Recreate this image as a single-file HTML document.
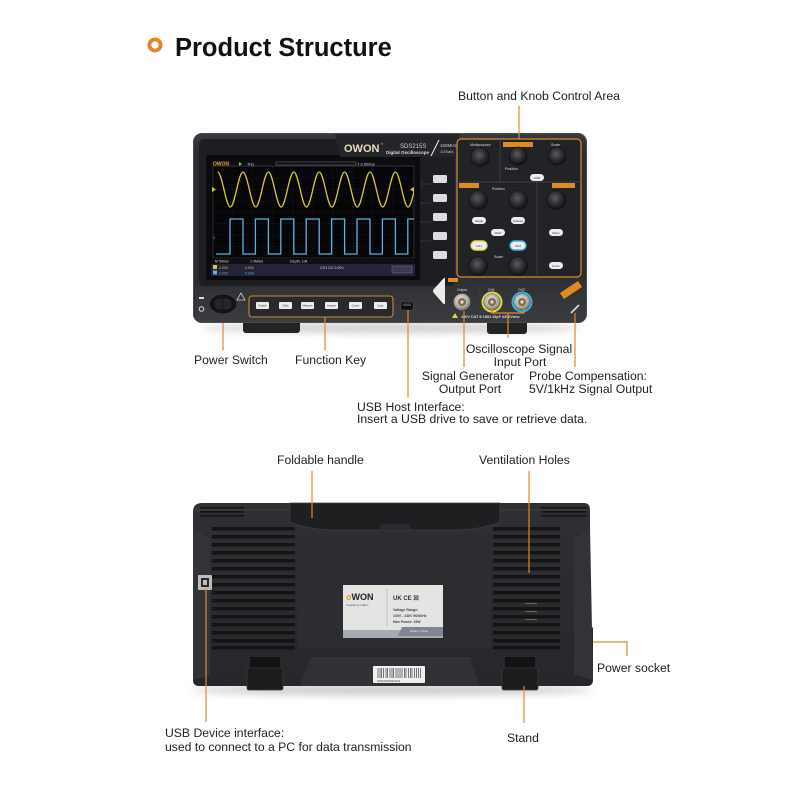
<!DOCTYPE html>
<html><head><meta charset="utf-8">
<style>
html,body{margin:0;padding:0;background:#fff;}
svg{display:block;}
.lb{font-family:"Liberation Sans",sans-serif;font-size:12.2px;fill:#222;}
.tiny{font-family:"Liberation Sans",sans-serif;fill:#ddd;}
</style></head>
<body>
<svg width="800" height="800" viewBox="0 0 800 800" xmlns="http://www.w3.org/2000/svg">
<defs>
  <radialGradient id="knob" cx="45%" cy="40%" r="60%">
    <stop offset="0" stop-color="#5a5b5e"/>
    <stop offset="0.6" stop-color="#2a2b2d"/>
    <stop offset="1" stop-color="#121213"/>
  </radialGradient>
  <radialGradient id="bnc" cx="45%" cy="40%" r="60%">
    <stop offset="0" stop-color="#f2f2f2"/>
    <stop offset="0.7" stop-color="#a8a8a8"/>
    <stop offset="1" stop-color="#6a6a6a"/>
  </radialGradient>
  <linearGradient id="bodyF" x1="0" y1="0" x2="0" y2="1">
    <stop offset="0" stop-color="#3a3b3f"/>
    <stop offset="0.1" stop-color="#2c2d31"/>
    <stop offset="1" stop-color="#2a2b2e"/>
  </linearGradient>
  <linearGradient id="strip" x1="0" y1="0" x2="0" y2="1">
    <stop offset="0" stop-color="#2e2f33"/>
    <stop offset="1" stop-color="#3b3c40"/>
  </linearGradient>
  <linearGradient id="bodyB" x1="0" y1="0" x2="0" y2="1">
    <stop offset="0" stop-color="#2f3033"/>
    <stop offset="1" stop-color="#26272a"/>
  </linearGradient>
  <filter id="blur" x="-20%" y="-200%" width="140%" height="500%"><feGaussianBlur stdDeviation="4"/></filter>
  <clipPath id="scr"><rect x="213" y="166" width="201" height="92"/></clipPath>
</defs>

<!-- Title -->
<circle cx="155" cy="45" r="5.6" fill="none" stroke="#e6821f" stroke-width="3.8"/>
<text x="175" y="56" style="font-family:'Liberation Sans',sans-serif;font-weight:bold;font-size:25.5px;fill:#111;">Product Structure</text>

<!-- ================= FRONT DEVICE ================= -->
<ellipse cx="392" cy="328" rx="190" ry="5" fill="#cfcfcf" filter="url(#blur)"/>
<!-- feet -->
<rect x="243" y="316" width="57" height="17" rx="3" fill="#222325"/>
<rect x="487" y="316" width="40" height="18" rx="3" fill="#222325"/>
<!-- body -->
<rect x="193" y="133" width="394" height="190" rx="9" fill="url(#bodyF)"/>
<rect x="193.5" y="133.5" width="393" height="189" rx="9" fill="none" stroke="#4a4b50" stroke-width="1"/>
<!-- lower strip -->
<path d="M195,287 L425,287 L452,278 L586,278 L586,314 Q586,322 578,322 L202,322 Q195,322 195,314 Z" fill="url(#strip)"/>
<!-- screen bezel -->
<rect x="199" y="139" width="256" height="147" rx="5" fill="#1d1e21"/>
<rect x="206" y="155" width="214" height="125" rx="2" fill="#0b0b0d"/>
<!-- logo area -->
<path d="M335,134 L460,134 L456,157 L340,157 Z" fill="#242528"/>
<text x="344" y="152" style="font-family:'Liberation Sans',sans-serif;font-weight:bold;font-size:11px;fill:#e9dcc0;">OWON</text>
<text x="381" y="145" style="font-family:'Liberation Sans',sans-serif;font-size:3px;fill:#ccc;">®</text>
<text x="400" y="148" style="font-family:'Liberation Sans',sans-serif;font-size:6px;fill:#ccc;">SDS215S</text>
<text x="386" y="154" style="font-family:'Liberation Sans',sans-serif;font-weight:bold;font-size:4.5px;fill:#ddd;">Digital Oscilloscope</text>
<line x1="431" y1="156" x2="439" y2="140" stroke="#eee" stroke-width="1"/>
<text x="440" y="147" style="font-family:'Liberation Sans',sans-serif;font-size:4.5px;fill:#ccc;">150MHz</text>
<text x="440" y="153" style="font-family:'Liberation Sans',sans-serif;font-size:4px;fill:#ccc;">1GSa/s</text>

<!-- screen -->
<rect x="211" y="160" width="204" height="116" fill="#060608"/>
<rect x="211" y="160" width="204" height="7" fill="#0e0e12"/>
<text x="213" y="165.5" style="font-family:'Liberation Sans',sans-serif;font-weight:bold;font-size:5px;fill:#e2a43a;">OWON</text>
<polygon points="239,162 239,166 242,164" fill="#7ad04a"/>
<text x="247" y="165.5" class="tiny" style="font-size:4px;">Trig</text>
<rect x="276" y="162" width="80" height="3" fill="none" stroke="#777" stroke-width="0.5"/>
<text x="357" y="165.5" class="tiny" style="font-size:4px;">T 0.000ns</text>
<rect x="213" y="166" width="201" height="92" fill="none" stroke="#4a4a50" stroke-width="0.6"/>
<g stroke="#3a3a3e" stroke-width="0.5" stroke-dasharray="0.8,2">
  <line x1="233" y1="167" x2="233" y2="258"/><line x1="253" y1="167" x2="253" y2="258"/>
  <line x1="273" y1="167" x2="273" y2="258"/><line x1="293" y1="167" x2="293" y2="258"/>
  <line x1="313" y1="167" x2="313" y2="258"/><line x1="333" y1="167" x2="333" y2="258"/>
  <line x1="353" y1="167" x2="353" y2="258"/><line x1="373" y1="167" x2="373" y2="258"/>
  <line x1="393" y1="167" x2="393" y2="258"/>
  <line x1="213" y1="178" x2="414" y2="178"/><line x1="213" y1="189.5" x2="414" y2="189.5"/>
  <line x1="213" y1="201" x2="414" y2="201"/><line x1="213" y1="212" x2="414" y2="212"/>
  <line x1="213" y1="223.5" x2="414" y2="223.5"/><line x1="213" y1="235" x2="414" y2="235"/>
  <line x1="213" y1="246.5" x2="414" y2="246.5"/>
</g>
<g clip-path="url(#scr)" fill="none" stroke-width="1.3">
  <path stroke="#d6c63c" d="M217.6,172 C222.2,172 225.7,207 230.3,207 S238.4,172 243,172 S251.1,207 255.7,207 S263.8,172 268.4,172 S276.5,207 281.1,207 S289.2,172 293.8,172 S301.9,207 306.5,207 S314.6,172 319.2,172 S327.3,207 331.9,207 S340,172 344.6,172 S352.7,207 357.3,207 S365.4,172 370,172 S378.1,207 382.7,207 S390.8,172 395.4,172 S403.5,207 408.1,207 S416.2,172 420.8,172"/>
  <path stroke="#5fb0dc" d="M216,254 H230 V219 H243 V254 H255.4 V219 H268.4 V254 H280.8 V219 H293.8 V254 H306.2 V219 H319.2 V254 H331.6 V219 H344.6 V254 H357 V219 H370 V254 H382.4 V219 H395.4 V254 H407.8 V219 H414"/>
</g>
<polygon points="212,187 212,192 216,189.5" fill="#d6c63c"/>
<polygon points="414,187 414,192 410,189.5" fill="#d6c63c"/>
<text x="213" y="239" style="font-family:'Liberation Sans',sans-serif;font-size:3.5px;fill:#5fb0dc;">2</text>
<rect x="211" y="258" width="204" height="6" fill="#101014"/>
<text x="215" y="262.5" class="tiny" style="font-size:3.6px;">M 500us</text>
<text x="250" y="262.5" class="tiny" style="font-size:3.6px;">1.0MS/s</text>
<text x="290" y="262.5" class="tiny" style="font-size:3.6px;">Depth: 10k</text>
<rect x="211" y="264" width="204" height="12" fill="#23233a"/>
<rect x="213" y="265" width="4" height="4" fill="#d6c63c"/>
<rect x="213" y="270.5" width="4" height="4" fill="#5fb0dc"/>
<text x="219" y="268.8" style="font-family:'Liberation Sans',sans-serif;font-size:3.5px;fill:#d6c63c;">2.00V</text>
<text x="219" y="274.3" style="font-family:'Liberation Sans',sans-serif;font-size:3.5px;fill:#5fb0dc;">2.00V</text>
<text x="245" y="268.8" style="font-family:'Liberation Sans',sans-serif;font-size:3.5px;fill:#d6c63c;">0.00V</text>
<text x="245" y="274.3" style="font-family:'Liberation Sans',sans-serif;font-size:3.5px;fill:#5fb0dc;">0.00V</text>
<text x="320" y="268.8" class="tiny" style="font-size:3.6px;">CH1 DC  0.00V</text>
<rect x="392" y="266" width="20" height="7" fill="#3a3a55" stroke="#888" stroke-width="0.4"/>

<!-- side buttons -->
<g fill="#dcdcdc">
  <rect x="433" y="175" width="14" height="8" rx="1.5"/>
  <rect x="433" y="194" width="14" height="8" rx="1.5"/>
  <rect x="433" y="213" width="14" height="8" rx="1.5"/>
  <rect x="433" y="232" width="14" height="8" rx="1.5"/>
  <rect x="433" y="251" width="14" height="8" rx="1.5"/>
</g>
<g stroke="#3c3d41" stroke-width="0.7">
  <line x1="420" y1="184" x2="432" y2="184"/><line x1="420" y1="203" x2="432" y2="203"/>
  <line x1="420" y1="222" x2="432" y2="222"/><line x1="420" y1="241" x2="432" y2="241"/>
</g>

<!-- control panel -->
<rect x="457" y="139" width="124" height="138" rx="4" fill="#222326" stroke="#d98a2a" stroke-width="1.2"/>
<g stroke="#4a4b4f" stroke-width="0.7" fill="none">
  <line x1="457" y1="182" x2="581" y2="182"/>
  <line x1="500" y1="139" x2="500" y2="182"/>
  <line x1="537" y1="182" x2="537" y2="277"/>
</g>
<rect x="503" y="142" width="30" height="5" fill="#e08a24"/>
<rect x="459" y="183" width="20" height="5" fill="#e08a24"/>
<rect x="552" y="183" width="23" height="5" fill="#e08a24"/>
<text x="470" y="146" class="tiny" style="font-size:3.6px;">Multipurpose</text>
<text x="551" y="146" class="tiny" style="font-size:3.6px;">Scale</text>
<text x="505" y="170" class="tiny" style="font-size:3.6px;">Position</text>
<text x="492" y="190" class="tiny" style="font-size:3.6px;">Position</text>
<text x="494" y="258" class="tiny" style="font-size:3.6px;">Scale</text>
<g fill="url(#knob)" stroke="#0e0e0f" stroke-width="0.6">
  <circle cx="480" cy="157" r="9.5"/>
  <circle cx="518" cy="156" r="9"/>
  <circle cx="557" cy="156" r="9"/>
  <circle cx="478" cy="200" r="9.5"/>
  <circle cx="518" cy="200" r="9.5"/>
  <circle cx="556" cy="200" r="9.5"/>
  <circle cx="478" cy="266" r="9.5"/>
  <circle cx="518" cy="266" r="9.5"/>
</g>
<g fill="#ededed">
  <rect x="530" y="174" width="14" height="7" rx="3.5"/>
  <rect x="472" y="217" width="14" height="7" rx="3.5"/>
  <rect x="511" y="217" width="14" height="7" rx="3.5"/>
  <rect x="491" y="229" width="14" height="7" rx="3.5"/>
  <rect x="549" y="229" width="14" height="7" rx="3.5"/>
  <rect x="549" y="262" width="14" height="7" rx="3.5"/>
</g>
<rect x="471" y="241" width="16" height="9" rx="4.5" fill="#ededed" stroke="#e6de3a" stroke-width="1.4"/>
<rect x="510" y="241" width="16" height="9" rx="4.5" fill="#ededed" stroke="#3fb2db" stroke-width="1.4"/>
<g style="font-family:'Liberation Sans',sans-serif;font-size:3px;fill:#333;" text-anchor="middle">
  <text x="537" y="179">HOR</text><text x="479" y="222">Single</text><text x="518" y="222">Autoset</text>
  <text x="498" y="234">Math</text><text x="556" y="234">Menu</text><text x="556" y="267">Force</text>
  <text x="479" y="247">CH1</text><text x="518" y="247">CH2</text>
</g>

<!-- bottom strip parts -->
<ellipse cx="223" cy="304" rx="14" ry="10" fill="#141416" stroke="#3a3b3e" stroke-width="1"/>
<rect x="214" y="298" width="18" height="12" rx="5" fill="#242527" stroke="#0d0d0e" stroke-width="0.8"/>
<line x1="223" y1="299" x2="223" y2="309" stroke="#0d0d0e" stroke-width="0.8"/>
<rect x="199" y="297" width="5" height="2" fill="#ddd"/>
<circle cx="201.5" cy="309" r="2.3" fill="none" stroke="#ddd" stroke-width="1"/>
<polygon points="241,293 237,300 245,300" fill="none" stroke="#ccc" stroke-width="0.8"/>
<rect x="249" y="296" width="144" height="21" rx="3" fill="#29292b" stroke="#c98a32" stroke-width="1.1"/>
<g fill="#ececec">
  <rect x="256" y="302" width="13" height="7" rx="1"/><rect x="279" y="302" width="13" height="7" rx="1"/>
  <rect x="301" y="302" width="13" height="7" rx="1"/><rect x="325" y="302" width="13" height="7" rx="1"/>
  <rect x="349" y="302" width="13" height="7" rx="1"/><rect x="374" y="302" width="13" height="7" rx="1"/>
</g>
<g style="font-family:'Liberation Sans',sans-serif;font-size:2.6px;fill:#333;" text-anchor="middle">
  <text x="262.5" y="306.5">Default</text><text x="285.5" y="306.5">Utility</text><text x="307.5" y="306.5">Measure</text>
  <text x="331.5" y="306.5">Acquire</text><text x="355.5" y="306.5">Cursor</text><text x="380.5" y="306.5">Copy</text>
</g>
<rect x="401" y="302" width="12" height="8" fill="#0c0c0d" stroke="#555" stroke-width="0.5"/>
<rect x="403" y="303.5" width="8" height="2.5" fill="#444"/>
<path d="M445,278 L445,303 Q445,305 443,303.5 L433.5,292.5 Q432.5,291 433.5,289.5 L443,279 Q445,277 445,278 Z" fill="#ececec"/>
<rect x="448" y="278" width="10" height="4" fill="#e08a24"/>
<line x1="480" y1="282" x2="480" y2="322" stroke="#444" stroke-width="0.5"/>
<text x="457" y="291" class="tiny" style="font-size:3.4px;">Output</text>
<text x="488" y="291" class="tiny" style="font-size:3.4px;">CH1</text>
<text x="518" y="291" class="tiny" style="font-size:3.4px;">CH2</text>
<circle cx="462" cy="302" r="8.5" fill="url(#bnc)" stroke="#555" stroke-width="0.5"/>
<circle cx="462" cy="302" r="4" fill="#8a6a3a"/><circle cx="462" cy="302" r="1.6" fill="#ddd"/>
<circle cx="492" cy="302" r="10.5" fill="#e3da3a"/>
<circle cx="492" cy="302" r="8.3" fill="url(#bnc)" stroke="#555" stroke-width="0.5"/>
<circle cx="492" cy="302" r="4" fill="#8a6a3a"/><circle cx="492" cy="302" r="1.6" fill="#ddd"/>
<circle cx="522" cy="302" r="10.5" fill="#3cb0d8"/>
<circle cx="522" cy="302" r="8.3" fill="url(#bnc)" stroke="#555" stroke-width="0.5"/>
<circle cx="522" cy="302" r="4" fill="#8a6a3a"/><circle cx="522" cy="302" r="1.6" fill="#ddd"/>
<polygon points="455,313 452,318 458,318" fill="#e8d23a"/>
<text x="461" y="318" style="font-family:'Liberation Sans',sans-serif;font-weight:bold;font-size:3.8px;fill:#ddd;">400V CAT II    1MΩ 15pF ≤300Vrms</text>
<polygon points="560,293 578,281 582,287 564,299" fill="#e08a24"/>
<line x1="571" y1="313" x2="579" y2="305" stroke="#ddd" stroke-width="1.6"/>

<!-- front connectors -->
<g stroke="#e0892b" stroke-width="1.2" fill="none">
  <line x1="519" y1="106" x2="519" y2="139"/>
  <line x1="223" y1="323" x2="223" y2="350"/>
  <line x1="325" y1="317" x2="325" y2="350"/>
  <line x1="408" y1="310" x2="408" y2="397"/>
  <line x1="464" y1="311" x2="464" y2="367"/>
  <polyline points="492,306 492,313 524,313 524,306"/>
  <line x1="508" y1="313" x2="508" y2="338"/>
  <line x1="575" y1="313" x2="575" y2="367"/>
</g>

<!-- front labels -->
<text class="lb" x="458" y="100">Button and Knob Control Area</text>
<text class="lb" x="194" y="364">Power Switch</text>
<text class="lb" x="295" y="364">Function Key</text>
<text class="lb" x="519" y="353" text-anchor="middle">Oscilloscope Signal</text>
<text class="lb" x="520" y="366" text-anchor="middle">Input Port</text>
<text class="lb" x="468" y="380" text-anchor="middle">Signal Generator</text>
<text class="lb" x="470" y="393" text-anchor="middle">Output Port</text>
<text class="lb" x="529" y="380">Probe Compensation:</text>
<text class="lb" x="529" y="393">5V/1kHz Signal Output</text>
<text class="lb" x="357" y="411">USB Host Interface:</text>
<text class="lb" x="357" y="423">Insert a USB drive to save or retrieve data.</text>

<!-- ================= BACK DEVICE ================= -->
<ellipse cx="392" cy="690" rx="200" ry="5" fill="#c8c8c8" filter="url(#blur)"/>
<path d="M193,512 Q193,503 202,503 L584,503 Q590,503 590,510 L590,625 L593,628 L593,680 Q593,686 587,686 L199,686 Q193,686 193,680 Z" fill="url(#bodyB)"/>
<!-- side bevels -->
<polygon points="193,528 210,540 210,675 193,680" fill="#333437"/>
<polygon points="590,528 574,540 574,675 593,680" fill="#323336"/>
<line x1="193" y1="510" x2="590" y2="510" stroke="#3d3e41" stroke-width="1"/>
<!-- top slots -->
<g fill="#141415">
  <rect x="200" y="507" width="44" height="1.6"/><rect x="200" y="511" width="44" height="1.6"/><rect x="200" y="515" width="44" height="1.6"/>
  <rect x="541" y="507" width="46" height="1.6"/><rect x="541" y="511" width="46" height="1.6"/><rect x="541" y="515" width="46" height="1.6"/>
</g>
<!-- handle -->
<path d="M290,503 L500,503 L500,522 Q480,530 455,530 L335,530 Q310,530 290,522 Z" fill="#1e1f21" stroke="#3c3d40" stroke-width="0.8"/>
<path d="M378,530 L382,524 L408,524 L412,530 Z" fill="#2a2b2e"/>
<!-- center panel -->
<rect x="298" y="535" width="193" height="113" fill="#2c2d30"/>
<!-- vents -->
<g fill="#141415">
  <rect x="212" y="527" width="83" height="3.5"/><rect x="212" y="535" width="83" height="3.5"/>
  <rect x="212" y="543" width="83" height="3.5"/><rect x="212" y="551" width="83" height="3.5"/>
  <rect x="212" y="559" width="83" height="3.5"/><rect x="212" y="567" width="83" height="3.5"/>
  <rect x="212" y="575" width="83" height="3.5"/><rect x="212" y="583" width="83" height="3.5"/>
  <rect x="212" y="591" width="83" height="3.5"/><rect x="212" y="599" width="83" height="3.5"/>
  <rect x="212" y="607" width="83" height="3.5"/><rect x="212" y="615" width="83" height="3.5"/>
  <rect x="212" y="623" width="83" height="3.5"/><rect x="212" y="631" width="83" height="3.5"/>
  <rect x="212" y="639" width="83" height="3.5"/><rect x="212" y="646" width="83" height="3.5"/>
  <rect x="493" y="527" width="67" height="3.5"/><rect x="493" y="535" width="67" height="3.5"/>
  <rect x="493" y="543" width="67" height="3.5"/><rect x="493" y="551" width="67" height="3.5"/>
  <rect x="493" y="559" width="67" height="3.5"/><rect x="493" y="567" width="67" height="3.5"/>
  <rect x="493" y="575" width="67" height="3.5"/><rect x="493" y="583" width="67" height="3.5"/>
  <rect x="493" y="591" width="67" height="3.5"/><rect x="493" y="599" width="67" height="3.5"/>
  <rect x="493" y="607" width="67" height="3.5"/><rect x="493" y="615" width="67" height="3.5"/>
  <rect x="493" y="623" width="67" height="3.5"/><rect x="493" y="631" width="67" height="3.5"/>
  <rect x="493" y="639" width="67" height="3.5"/><rect x="493" y="646" width="67" height="3.5"/>
</g>
<g fill="#6b6a45"><rect x="525" y="603" width="12" height="1"/><rect x="525" y="611" width="12" height="1"/><rect x="525" y="619" width="12" height="1"/></g>
<!-- lower area -->
<polygon points="300,686 310,658 470,658 480,686" fill="#303134"/>
<line x1="310" y1="658" x2="470" y2="658" stroke="#3e3f42" stroke-width="0.8"/>
<!-- label -->
<rect x="343" y="585" width="100" height="53" fill="#e4e5e2"/>
<rect x="343" y="630" width="100" height="8" fill="#a5aab3"/>
<polygon points="402,627 443,627 443,636 398,636" fill="#7f8592"/>
<line x1="387" y1="589" x2="387" y2="626" stroke="#999" stroke-width="0.5"/>
<text x="346" y="600" style="font-family:'Liberation Sans',sans-serif;font-weight:bold;font-size:9px;fill:#d99a2a;">o<tspan fill="#222">WON</tspan></text>
<text x="346" y="606" style="font-family:'Liberation Sans',sans-serif;font-size:2.8px;fill:#555;">Created by Lilliput</text>
<text x="393" y="600" style="font-family:'Liberation Sans',sans-serif;font-weight:bold;font-size:6px;fill:#333;">UK  CE  ☒</text>
<text x="393" y="611" style="font-family:'Liberation Sans',sans-serif;font-weight:bold;font-size:3.5px;fill:#444;">Voltage Range:</text>
<text x="393" y="617" style="font-family:'Liberation Sans',sans-serif;font-weight:bold;font-size:3.5px;fill:#444;">100V - 240V  50/60Hz</text>
<text x="393" y="623" style="font-family:'Liberation Sans',sans-serif;font-weight:bold;font-size:3.5px;fill:#444;">Max Power:   15W</text>
<text x="410" y="632" style="font-family:'Liberation Sans',sans-serif;font-size:2.8px;fill:#eee;">Made in China</text>
<!-- barcode -->
<rect x="373" y="666" width="52" height="17" rx="1" fill="#f0f0f0"/>
<g stroke="#222" stroke-width="0.6">
  <line x1="378" y1="668" x2="378" y2="678"/><line x1="380" y1="668" x2="380" y2="678"/><line x1="381.5" y1="668" x2="381.5" y2="678"/>
  <line x1="383.5" y1="668" x2="383.5" y2="678"/><line x1="386" y1="668" x2="386" y2="678"/><line x1="387.5" y1="668" x2="387.5" y2="678"/>
  <line x1="390" y1="668" x2="390" y2="678"/><line x1="392" y1="668" x2="392" y2="678"/><line x1="393.5" y1="668" x2="393.5" y2="678"/>
  <line x1="396" y1="668" x2="396" y2="678"/><line x1="398" y1="668" x2="398" y2="678"/><line x1="400" y1="668" x2="400" y2="678"/>
  <line x1="402" y1="668" x2="402" y2="678"/><line x1="404.5" y1="668" x2="404.5" y2="678"/><line x1="406" y1="668" x2="406" y2="678"/>
  <line x1="408.5" y1="668" x2="408.5" y2="678"/><line x1="410.5" y1="668" x2="410.5" y2="678"/><line x1="412" y1="668" x2="412" y2="678"/>
  <line x1="414.5" y1="668" x2="414.5" y2="678"/><line x1="416.5" y1="668" x2="416.5" y2="678"/><line x1="418.5" y1="668" x2="418.5" y2="678"/>
  <line x1="420.5" y1="668" x2="420.5" y2="678"/>
</g>
<text x="377" y="682" style="font-family:'Liberation Sans',sans-serif;font-size:2.6px;fill:#333;">SDS2152420G0011</text>
<!-- feet -->
<rect x="250" y="657" width="30" height="14" fill="#121213"/>
<rect x="247" y="668" width="36" height="22" rx="2" fill="#1c1c1d" stroke="#3d3d40" stroke-width="0.8"/>
<rect x="505" y="657" width="30" height="14" fill="#121213"/>
<rect x="502" y="668" width="36" height="22" rx="2" fill="#1c1c1d" stroke="#3d3d40" stroke-width="0.8"/>
<!-- USB B port -->
<rect x="198" y="575" width="14" height="15" rx="1" fill="#bdbdbd"/>
<rect x="201" y="578" width="8" height="9" fill="#2a2a2a"/>
<rect x="203" y="580" width="4" height="5" fill="#bdbdbd"/>

<!-- back connectors -->
<g stroke="#e0892b" stroke-width="1.2" fill="none">
  <line x1="312" y1="471" x2="312" y2="518"/>
  <line x1="529" y1="471" x2="529" y2="573"/>
  <line x1="206" y1="588" x2="206" y2="722"/>
  <line x1="524" y1="686" x2="524" y2="723"/>
  <polyline points="593,642 627,642 627,656"/>
</g>
<text class="lb" x="277" y="464">Foldable handle</text>
<text class="lb" x="479" y="464">Ventilation Holes</text>
<text class="lb" x="597" y="672">Power socket</text>
<text class="lb" x="165" y="737">USB Device interface:</text>
<text class="lb" x="165" y="751">used to connect to a PC for data transmission</text>
<text class="lb" x="507" y="742">Stand</text>
</svg>
</body></html>
